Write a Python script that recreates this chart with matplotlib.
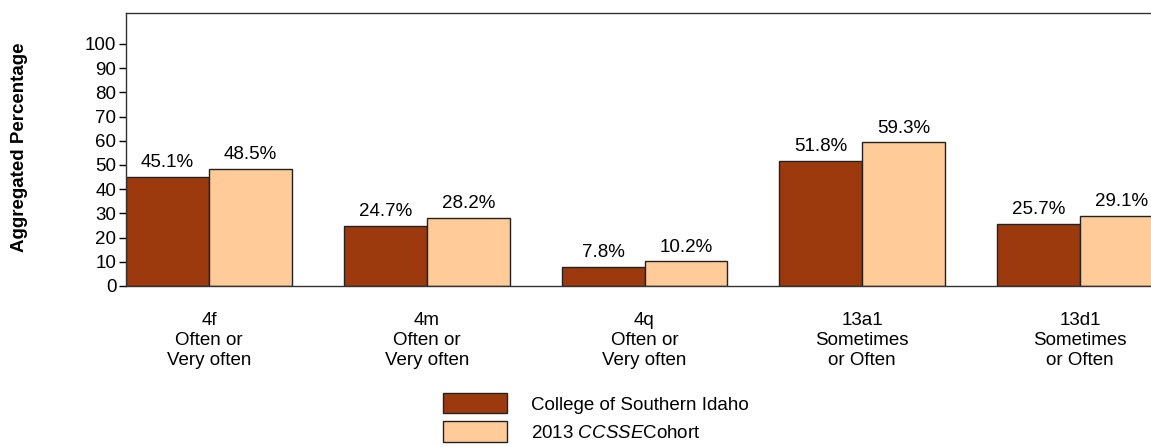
import numpy as np
import matplotlib
matplotlib.use("Agg")
import matplotlib.pyplot as plt

plt.rcParams['font.family'] = ['Liberation Sans', 'DejaVu Sans']
plt.rcParams['mathtext.fontset'] = 'custom'
plt.rcParams['mathtext.it'] = 'Liberation Sans:italic'
plt.rcParams['mathtext.rm'] = 'Liberation Sans'

categories = ['4f\nOften or\nVery often', '4m\nOften or\nVery often', '4q\nOften or\nVery often',
              '13a1\nSometimes\nor Often', '13d1\nSometimes\nor Often']
college = [45.1, 24.7, 7.8, 51.8, 25.7]
cohort = [48.5, 28.2, 10.2, 59.3, 29.1]
series_names = ['College of Southern Idaho', '2013 $\\it{CCSSE}$Cohort']
yticks = [0, 10, 20, 30, 40, 50, 60, 70, 80, 90, 100]

dark = '#9C3A0E'
light = '#FFCB98'
w = 0.381
fs = 13.5

fig = plt.figure(figsize=(11.51, 4.47), dpi=100)
ax = fig.add_axes([126 / 1151, 161 / 447, (1163 - 126) / 1151, 273 / 447])

x = np.arange(len(categories))
b1 = ax.bar(x - w / 2, college, w, color=dark, edgecolor='#222222', linewidth=1)
b2 = ax.bar(x + w / 2, cohort, w, color=light, edgecolor='#222222', linewidth=1)

for bars, vals in [(b1, college), (b2, cohort)]:
    for b, v in zip(bars, vals):
        ax.annotate(f'{v:.1f}%', (b.get_x() + b.get_width() / 2, v),
                    xytext=(0, 7), textcoords='offset points',
                    ha='center', va='baseline', fontsize=fs)

ax.set_xlim(-w, len(categories) - 1 + w)
ax.set_ylim(0, 112.8)
ax.set_yticks(yticks)
ax.tick_params(axis='y', labelsize=fs, length=5, width=1, pad=2, direction='out')
ax.set_xticks(x)
ax.set_xticklabels(categories, fontsize=fs, linespacing=1.2)
ax.tick_params(axis='x', length=0, pad=19)
ax.spines['right'].set_visible(False)
for s in ['left', 'top', 'bottom']:
    ax.spines[s].set_color('#333333')
    ax.spines[s].set_linewidth(1)

fig.text(20 / 1151, 1 - 147 / 447, 'Aggregated Percentage', rotation=90,
         ha='center', va='center', fontsize=fs, fontweight='bold')

fig.legend([b1[0], b2[0]], series_names, loc='upper left',
           bbox_to_anchor=(443 / 1151, 1 - 393 / 447), frameon=False,
           fontsize=fs, handlelength=3.41, handleheight=1.3, labelspacing=0.42,
           handletextpad=1.28, borderpad=0, borderaxespad=0)

fig.savefig('out.png', dpi=100)
